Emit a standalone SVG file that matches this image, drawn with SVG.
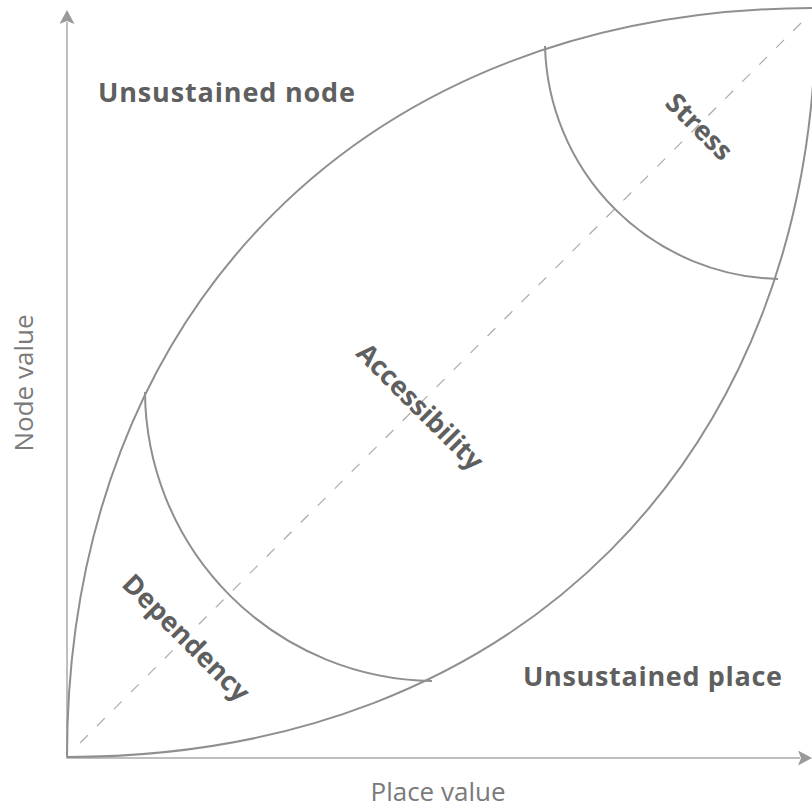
<svg xmlns="http://www.w3.org/2000/svg" width="812" height="809" viewBox="0 0 812 809">
<style>
.axis{stroke:#bfbfbf;stroke-width:2;fill:none}
.lens{stroke:#8f8f8f;stroke-width:2;fill:none}
.diag{stroke:#ababab;stroke-width:1.2;stroke-dasharray:11 13;fill:none}
.lbl{font-family:"Open Sans","Noto Sans","Liberation Sans",sans-serif;font-weight:700;fill:#5f5f5f;font-size:27px}
.ax{font-family:"Open Sans","Noto Sans","Liberation Sans",sans-serif;font-weight:400;fill:#7a7a7a;font-size:26px}
</style>
<defs>
<marker id="arr" viewBox="0 0 14 15" markerWidth="14" markerHeight="15" refX="2" refY="7.5" orient="auto" markerUnits="userSpaceOnUse">
<path d="M0,0 L14,7.5 L0,15 L3,7.5 z" fill="#9a9a9a"/>
</marker>
</defs>
<rect width="812" height="809" fill="#ffffff"/>
<g id="connectors">
<line class="axis" x1="67" y1="758" x2="67" y2="22" marker-end="url(#arr)"/>
<line class="axis" x1="66" y1="758" x2="800" y2="758" marker-end="url(#arr)"/>
<line class="diag" x1="80" y1="743" x2="805" y2="19"/>
</g>
<g id="lens">
<path class="lens" d="M67,757 C67,308 367,8 816,8"/>
<path class="lens" d="M67,757 C516,757 816,457 816,8"/>
</g>
<g id="stress">
<path class="lens" d="M545,46 A239,239 0 0 0 778,279"/>
<text class="lbl" text-anchor="middle" dominant-baseline="central" transform="translate(700,126) rotate(45)">Stress</text>
</g>
<g id="dependency">
<path class="lens" d="M145,392 A291,291 0 0 0 432,681"/>
<text class="lbl" text-anchor="middle" dominant-baseline="central" transform="translate(187,637) rotate(45)">Dependency</text>
</g>
<g id="accessibility">
<text class="lbl" text-anchor="middle" dominant-baseline="central" transform="translate(421,406) rotate(45)">Accessibility</text>
</g>
<g id="unsustained-node">
<text class="lbl" x="98" y="102" textLength="257" lengthAdjust="spacing">Unsustained node</text>
</g>
<g id="unsustained-place">
<text class="lbl" x="523" y="686" textLength="259" lengthAdjust="spacing">Unsustained place</text>
</g>
<g id="x-label">
<text class="ax" x="438" y="801" text-anchor="middle">Place value</text>
</g>
<g id="y-label">
<text class="ax" text-anchor="middle" transform="translate(33,383) rotate(-90)">Node value</text>
</g>
</svg>
